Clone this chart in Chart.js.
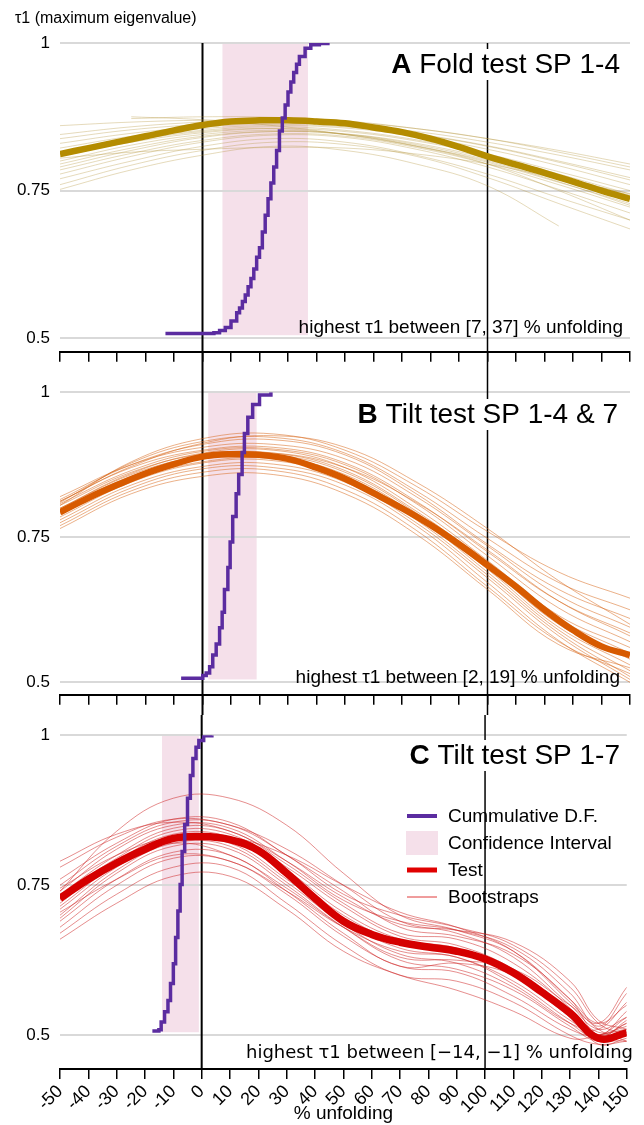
<!DOCTYPE html>
<html>
<head>
<meta charset="utf-8">
<script src="https://cdn.jsdelivr.net/npm/chart.js@4.4.1/dist/chart.umd.min.js"></script>
<style>
  html, body { margin: 0; padding: 0; background: #fff; }
  #wrap { position: relative; width: 644px; height: 1125px; }
  #wrap canvas { position: absolute; left: 0; }
</style>
</head>
<body>
<div id="wrap">
  <canvas id="panelA" width="644" height="372" style="top:0px"></canvas>
  <canvas id="panelB" width="644" height="343" style="top:372px"></canvas>
  <canvas id="panelC" width="644" height="410" style="top:715px"></canvas>
</div>
<script>
const FONT = '"Liberation Sans", Arial, Helvetica, sans-serif';
Chart.defaults.font.family = FONT;
Chart.defaults.color = "#000";

// x axis (% unfolding)
const xMin = -50;
const xMax = 150;
const refLines = [0, 100];
const yTicks = [0.5, 0.75, 1];
const ciBottom = 0.505;

// Test curves, one value every 10 % unfolding
const testX = [-50, -40, -30, -20, -10, 0, 10, 20, 30, 40, 50, 60, 70, 80, 90, 100, 110, 120, 130, 140, 150];
const testA = [0.812, 0.822, 0.832, 0.842, 0.852, 0.861, 0.867, 0.869, 0.869, 0.867, 0.864, 0.857, 0.849, 0.838, 0.824, 0.808, 0.794, 0.780, 0.765, 0.750, 0.736];
const testB = [0.793, 0.818, 0.840, 0.860, 0.876, 0.889, 0.893, 0.892, 0.885, 0.870, 0.851, 0.826, 0.800, 0.771, 0.738, 0.702, 0.665, 0.625, 0.590, 0.562, 0.547];
const testC = [0.728, 0.760, 0.787, 0.810, 0.828, 0.831, 0.826, 0.808, 0.770, 0.728, 0.690, 0.668, 0.655, 0.647, 0.640, 0.627, 0.604, 0.572, 0.537, 0.495, 0.504];

// Confidence intervals
const ciA = [7, 37];
const ciB = [2, 19];
const ciC = [-14, -1];

// Cumulative distribution (step) curves
const cdfAx = [-13, 4, 6, 8, 10, 12, 13, 14, 15, 16, 17, 18, 19, 20, 21, 22, 23, 24, 25, 26, 27, 28, 29, 30, 31, 32, 33, 34, 36, 38, 41, 44];
const cdfAy = [0.508, 0.509, 0.513, 0.518, 0.529, 0.543, 0.551, 0.562, 0.573, 0.587, 0.601, 0.617, 0.637, 0.653, 0.680, 0.708, 0.736, 0.763, 0.790, 0.818, 0.851, 0.873, 0.895, 0.917, 0.934, 0.950, 0.964, 0.977, 0.991, 0.997, 0.999, 1.0];
const cdfBx = [-7.5, 0.1, 1.3, 2.5, 3.6, 4.8, 6.0, 6.9, 7.7, 8.9, 9.7, 10.6, 11.8, 12.7, 13.9, 14.7, 15.9, 17.6, 20, 24];
const cdfBy = [0.507, 0.512, 0.516, 0.527, 0.547, 0.566, 0.594, 0.621, 0.660, 0.698, 0.742, 0.786, 0.825, 0.858, 0.896, 0.929, 0.957, 0.979, 0.995, 1.0];
const cdfCx = [-17.4, -15.1, -14.3, -13.1, -11.9, -11.0, -10.0, -9.2, -8.4, -7.6, -6.9, -6.0, -5.0, -4.0, -3.1, -2.0, -1.0, 0.7, 3.6];
const cdfCy = [0.507, 0.509, 0.522, 0.539, 0.558, 0.586, 0.619, 0.663, 0.707, 0.751, 0.806, 0.851, 0.895, 0.933, 0.961, 0.980, 0.991, 0.999, 1.0];

// Bootstraps A
const bootXA = [-50, -25, 0, 25, 50, 75, 100, 125, 150];
const bootA = [
  [null, 0.872, 0.875, 0.874, 0.868, 0.855, 0.838, 0.818, 0.795],
  [0.860, 0.866, 0.869, 0.868, 0.862, 0.850, 0.832, 0.810, 0.785],
  [0.845, 0.858, 0.866, 0.869, 0.866, 0.855, 0.838, 0.815, 0.790],
  [0.838, 0.853, 0.862, 0.865, 0.860, 0.846, 0.826, 0.800, 0.772],
  [0.830, 0.847, 0.858, 0.862, 0.858, 0.845, 0.825, 0.798, 0.768],
  [0.822, 0.842, 0.855, 0.860, 0.856, 0.842, 0.820, 0.792, 0.760],
  [0.815, 0.837, 0.852, 0.858, 0.852, 0.836, 0.812, 0.782, 0.750],
  [0.808, 0.832, 0.848, 0.855, 0.850, 0.834, 0.810, 0.778, 0.744],
  [0.800, 0.827, 0.845, 0.852, 0.846, 0.828, 0.802, 0.770, 0.735],
  [0.795, 0.822, 0.842, 0.850, 0.845, 0.826, 0.798, 0.764, 0.728],
  [0.790, 0.818, 0.840, 0.850, 0.846, 0.830, 0.805, 0.775, 0.742],
  [0.785, 0.813, 0.835, 0.846, 0.842, 0.823, 0.795, 0.760, 0.722],
  [0.778, 0.808, 0.832, 0.844, 0.840, 0.820, 0.790, 0.752, 0.712],
  [0.770, 0.800, 0.825, 0.838, 0.832, 0.810, 0.778, 0.738, 0.700],
  [0.760, 0.793, 0.818, 0.832, 0.828, 0.808, 0.772, 0.728, 0.685],
  [0.752, 0.785, 0.810, 0.825, 0.818, 0.795, 0.758, 0.690, null],
  [0.805, 0.815, 0.820, 0.823, 0.822, 0.812, 0.795, 0.770, 0.745],
  [null, 0.875, 0.870, 0.860, 0.845, 0.825, 0.800, 0.765, 0.725],
  [0.815, 0.835, 0.850, 0.855, 0.845, 0.825, 0.795, 0.750, 0.700],
];

// Bootstraps B
const bootXB = [-50, -25, 0, 25, 50, 75, 100, 125, 150];
const bootB = [
  [0.805, 0.880, 0.920, 0.928, 0.900, 0.838, 0.760, 0.690, 0.645],
  [0.810, 0.878, 0.915, 0.922, 0.895, 0.830, 0.748, 0.672, 0.625],
  [0.815, 0.875, 0.910, 0.918, 0.892, 0.825, 0.738, 0.660, 0.610],
  [0.820, 0.875, 0.905, 0.910, 0.885, 0.820, 0.735, 0.650, 0.595],
  [0.812, 0.870, 0.900, 0.905, 0.878, 0.812, 0.725, 0.640, 0.585],
  [0.808, 0.865, 0.898, 0.902, 0.875, 0.808, 0.718, 0.628, 0.570],
  [0.800, 0.860, 0.895, 0.900, 0.870, 0.800, 0.710, 0.615, 0.560],
  [0.805, 0.862, 0.893, 0.895, 0.865, 0.795, 0.705, 0.610, 0.550],
  [0.798, 0.855, 0.888, 0.892, 0.862, 0.792, 0.700, 0.600, 0.540],
  [0.795, 0.852, 0.885, 0.888, 0.858, 0.788, 0.695, 0.595, 0.530],
  [0.790, 0.848, 0.880, 0.885, 0.855, 0.785, 0.690, 0.590, 0.520],
  [0.785, 0.845, 0.878, 0.882, 0.852, 0.780, 0.685, 0.585, 0.510],
  [0.780, 0.840, 0.872, 0.876, 0.845, 0.775, 0.680, 0.580, 0.505],
  [0.775, 0.835, 0.868, 0.870, 0.840, 0.770, 0.672, 0.572, 0.500],
  [0.770, 0.830, 0.862, 0.865, 0.832, 0.762, 0.665, 0.570, 0.515],
  [0.765, 0.825, 0.855, 0.858, 0.825, 0.755, 0.660, 0.565, 0.525],
  [0.812, 0.872, 0.912, 0.925, 0.905, 0.845, 0.765, 0.675, 0.600],
  [0.800, 0.858, 0.890, 0.895, 0.870, 0.810, 0.728, 0.640, 0.580],
];

// Bootstraps C
const bootXC = [-50, -30, -10, 10, 30, 50, 70, 90, 110, 130, 140, 150];
const bootC = [
  [0.740, 0.840, 0.895, 0.895, 0.850, 0.770, 0.700, 0.675, 0.640, 0.560, 0.520, 0.550],
  [0.780, 0.830, 0.860, 0.850, 0.810, 0.750, 0.690, 0.670, 0.630, 0.550, 0.510, 0.530],
  [0.760, 0.820, 0.860, 0.855, 0.800, 0.740, 0.680, 0.665, 0.635, 0.560, 0.500, 0.520],
  [0.750, 0.815, 0.855, 0.850, 0.800, 0.735, 0.700, 0.680, 0.650, 0.580, 0.520, 0.500],
  [0.740, 0.810, 0.850, 0.845, 0.790, 0.725, 0.690, 0.675, 0.645, 0.570, 0.515, 0.570],
  [0.735, 0.800, 0.845, 0.840, 0.785, 0.720, 0.670, 0.660, 0.620, 0.545, 0.490, 0.500],
  [0.730, 0.795, 0.840, 0.835, 0.780, 0.715, 0.665, 0.650, 0.610, 0.540, 0.505, 0.510],
  [0.720, 0.790, 0.835, 0.830, 0.775, 0.705, 0.660, 0.645, 0.605, 0.535, 0.500, 0.540],
  [0.715, 0.785, 0.830, 0.825, 0.770, 0.700, 0.655, 0.640, 0.600, 0.530, 0.495, 0.490],
  [0.710, 0.780, 0.825, 0.820, 0.760, 0.690, 0.645, 0.630, 0.590, 0.525, 0.500, 0.520],
  [0.700, 0.775, 0.820, 0.815, 0.755, 0.685, 0.635, 0.620, 0.580, 0.520, 0.510, 0.555],
  [0.695, 0.770, 0.815, 0.810, 0.750, 0.680, 0.625, 0.610, 0.575, 0.515, 0.490, 0.505],
  [0.690, 0.760, 0.805, 0.800, 0.740, 0.670, 0.615, 0.620, 0.600, 0.535, 0.485, 0.495],
  [0.680, 0.750, 0.795, 0.790, 0.735, 0.665, 0.615, 0.605, 0.565, 0.510, 0.500, 0.530],
  [0.670, 0.735, 0.780, 0.780, 0.720, 0.650, 0.600, 0.590, 0.555, 0.500, 0.485, 0.490],
  [0.660, 0.720, 0.765, 0.765, 0.710, 0.640, 0.600, 0.575, 0.540, 0.495, 0.500, 0.515],
  [0.790, 0.835, 0.855, 0.840, 0.790, 0.730, 0.685, 0.675, 0.655, 0.590, 0.525, 0.510],
  [0.745, 0.800, 0.830, 0.830, 0.800, 0.750, 0.705, 0.680, 0.640, 0.555, 0.510, 0.490],
  [0.725, 0.790, 0.820, 0.800, 0.745, 0.680, 0.630, 0.625, 0.610, 0.550, 0.520, 0.580],
  [0.705, 0.760, 0.800, 0.790, 0.740, 0.680, 0.640, 0.630, 0.585, 0.520, 0.495, 0.525],
];

const PURPLE = "#5b2ca0";
const CI_COLOR = "#f5e0ea";

function toPoints(xs, ys) {
  return xs.map((x, i) => ({ x: x, y: ys[i] }));
}

// Draws the band, reference lines, titles, notes and legend for a panel
function decorPlugin(cfg) {
  return {
    id: "decor",
    beforeDraw(chart) {
      const { ctx, scales: { x, y } } = chart;
      const left = x.getPixelForValue(cfg.ci[0]);
      const right = x.getPixelForValue(cfg.ci[1]);
      const top = y.getPixelForValue(1);
      const bottom = y.getPixelForValue(ciBottom);
      ctx.save();
      ctx.fillStyle = CI_COLOR;
      ctx.fillRect(left, top, right - left, bottom - top);
      ctx.restore();
    },
    beforeDatasetsDraw(chart) {
      const { ctx, chartArea, scales: { x } } = chart;
      const top = cfg.lineFromEdge ? 0 : chartArea.top;
      const bottom = cfg.lineToEdge ? chart.height : chartArea.bottom;
      ctx.save();
      ctx.strokeStyle = "#000";
      refLines.forEach((v, i) => {
        const px = x.getPixelForValue(v);
        ctx.lineWidth = i === 0 ? 2 : 1.5;
        ctx.beginPath();
        ctx.moveTo(px, top);
        ctx.lineTo(px, bottom);
        ctx.stroke();
      });
      ctx.restore();
    },
    afterDraw(chart) {
      const ctx = chart.ctx;
      ctx.save();
      ctx.fillStyle = "#000";

      // panel title, bold letter + plain text on a white box
      ctx.font = "bold 28px " + FONT;
      const wBold = ctx.measureText(cfg.titleBold).width;
      ctx.font = "28px " + FONT;
      const wRest = ctx.measureText(cfg.titleRest).width;
      const start = cfg.titleRight - wBold - wRest;
      ctx.fillStyle = "#fff";
      ctx.fillRect(start - 3, cfg.titleBase - 24, wBold + wRest + 6, 31);
      ctx.fillStyle = "#000";
      ctx.textBaseline = "alphabetic";
      ctx.textAlign = "left";
      ctx.font = "bold 28px " + FONT;
      ctx.fillText(cfg.titleBold, start, cfg.titleBase);
      ctx.font = "28px " + FONT;
      ctx.fillText(cfg.titleRest, start + wBold, cfg.titleBase);

      // note about the interval
      ctx.font = cfg.noteFont;
      ctx.textAlign = "right";
      ctx.fillText(cfg.note, cfg.noteRight, cfg.noteBase);

      // y axis title
      if (cfg.yTitle) {
        ctx.font = "16px " + FONT;
        ctx.textAlign = "left";
        ctx.fillText(cfg.yTitle, 15, 23);
      }

      if (cfg.legend) drawLegend(ctx, cfg);
      ctx.restore();
    },
  };
}

function drawLegend(ctx, cfg) {
  const lx = 407;
  const rows = [101, 128, 155, 182];
  ctx.font = "19px " + FONT;
  ctx.textAlign = "left";
  ctx.textBaseline = "middle";

  ctx.strokeStyle = PURPLE;
  ctx.lineWidth = 4;
  ctx.beginPath(); ctx.moveTo(lx, rows[0]); ctx.lineTo(lx + 30, rows[0]); ctx.stroke();

  ctx.fillStyle = CI_COLOR;
  ctx.fillRect(lx - 1, rows[1] - 12, 32, 24);

  ctx.strokeStyle = "#e00000";
  ctx.lineWidth = 5;
  ctx.beginPath(); ctx.moveTo(lx, rows[2]); ctx.lineTo(lx + 30, rows[2]); ctx.stroke();

  ctx.strokeStyle = "#e03a3a";
  ctx.lineWidth = 1;
  ctx.beginPath(); ctx.moveTo(lx, rows[3]); ctx.lineTo(lx + 30, rows[3]); ctx.stroke();

  ctx.fillStyle = "#000";
  ["Cummulative D.F.", "Confidence Interval", "Test", "Bootstraps"].forEach((t, i) => {
    ctx.fillText(t, lx + 41, rows[i] + 1);
  });
}

function createPanel(canvasId, cfg) {
  const ctx = document.getElementById(canvasId).getContext("2d");

  const datasets = [
    {
      label: "Cummulative D.F.",
      data: toPoints(cfg.cdfX, cfg.cdfY),
      borderColor: PURPLE,
      borderWidth: 3.5,
      stepped: true,
      pointRadius: 0,
      order: 0,
    },
    {
      label: "Test",
      data: toPoints(testX, cfg.test),
      borderColor: cfg.color,
      borderWidth: cfg.testWidth,
      tension: 0.4,
      pointRadius: 0,
      order: 1,
    },
  ];
  cfg.boots.forEach((b) => {
    datasets.push({
      label: "Bootstraps",
      data: toPoints(cfg.bootX, b),
      borderColor: cfg.bootColor,
      borderWidth: 1,
      tension: 0.4,
      pointRadius: 0,
      order: 2,
    });
  });

  return new Chart(ctx, {
    type: "line",
    data: { datasets: datasets },
    options: {
      responsive: false,
      animation: false,
      devicePixelRatio: 1,
      layout: { padding: { top: cfg.padTop, right: 14, bottom: 0, left: 0 } },
      plugins: { legend: { display: false }, tooltip: { enabled: false } },
      scales: {
        x: {
          type: "linear",
          min: xMin,
          max: xMax,
          ticks: {
            display: cfg.showXLabels,
            stepSize: 10,
            autoSkip: false,
            minRotation: 45,
            maxRotation: 45,
            padding: 2,
            font: { size: 18 },
            color: "#000",
          },
          grid: { drawOnChartArea: false, drawTicks: true, tickLength: 10, color: "#000", lineWidth: 1.5 },
          border: { display: true, color: "#000", width: 2 },
          title: {
            display: cfg.showXLabels,
            text: "% unfolding",
            font: { size: 19 },
            color: "#000",
            padding: { top: 0, bottom: 0 },
          },
          afterFit: function (scale) {
            scale.height = cfg.xAxisHeight;
          },
        },
        y: {
          type: "linear",
          min: cfg.yMin,
          max: 1,
          afterBuildTicks: function (scale) {
            scale.ticks = yTicks.map((v) => ({ value: v }));
          },
          ticks: {
            padding: 10,
            font: { size: 17 },
            color: "#000",
            callback: function (value) {
              return String(value);
            },
          },
          grid: { drawTicks: false, color: "#d9d9d9", lineWidth: 2 },
          border: { display: false },
          afterFit: function (scale) {
            scale.width = 60;
          },
        },
      },
    },
    plugins: [decorPlugin(cfg)],
  });
}

createPanel("panelA", {
  color: "#b48c00",
  bootColor: "rgba(180,150,60,0.35)",
  testWidth: 6.5,
  test: testA,
  bootX: bootXA,
  boots: bootA,
  cdfX: cdfAx,
  cdfY: cdfAy,
  ci: ciA,
  yMin: 1 - 317 / 606,
  padTop: 43,
  xAxisHeight: 12,
  showXLabels: false,
  lineFromEdge: false,
  lineToEdge: true,
  titleBold: "A",
  titleRest: " Fold test SP 1-4",
  titleRight: 620,
  titleBase: 73,
  note: "highest τ1 between [7, 37] % unfolding",
  noteFont: "19px " + FONT,
  noteRight: 623,
  noteBase: 333,
  yTitle: "τ1 (maximum eigenvalue)",
});

createPanel("panelB", {
  color: "#d75a00",
  bootColor: "rgba(215,100,20,0.5)",
  testWidth: 6.5,
  test: testB,
  bootX: bootXB,
  boots: bootB,
  cdfX: cdfBx,
  cdfY: cdfBy,
  ci: ciB,
  yMin: 1 - 316 / 606,
  padTop: 15,
  xAxisHeight: 12,
  showXLabels: false,
  lineFromEdge: true,
  lineToEdge: true,
  titleBold: "B",
  titleRest: " Tilt test SP 1-4 & 7",
  titleRight: 618,
  titleBase: 51,
  note: "highest τ1 between [2, 19] % unfolding",
  noteFont: "19px " + FONT,
  noteRight: 620,
  noteBase: 311,
});

createPanel("panelC", {
  color: "#d50000",
  bootColor: "rgba(205,30,30,0.5)",
  testWidth: 7.5,
  test: testC,
  bootX: bootXC,
  boots: bootC,
  cdfX: cdfCx,
  cdfY: cdfCy,
  ci: ciC,
  yMin: 1 - 336 / 604,
  padTop: 18,
  xAxisHeight: 56,
  showXLabels: true,
  lineFromEdge: true,
  lineToEdge: false,
  titleBold: "C",
  titleRest: " Tilt test SP 1-7",
  titleRight: 620,
  titleBase: 49,
  note: "highest τ1 between [−14, −1] % unfolding",
  noteFont: '18px "DejaVu Sans", sans-serif',
  noteRight: 633,
  noteBase: 343,
  legend: true,
});
</script>
</body>
</html>
